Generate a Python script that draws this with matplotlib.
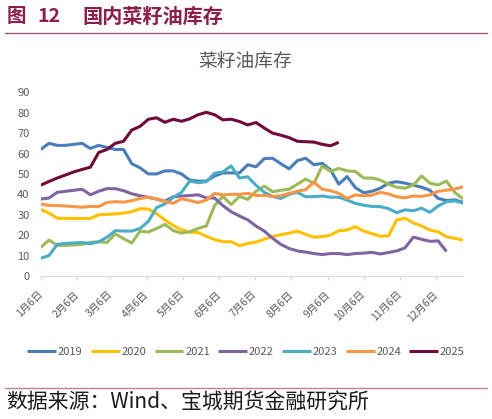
import matplotlib
matplotlib.use("Agg")
import matplotlib.pyplot as plt
from matplotlib.lines import Line2D
import numpy as np

plt.rcParams['font.family'] = ['Noto Sans CJK SC', 'DejaVu Sans']

# ---------------- data ----------------
tick_days = [0, 31, 59, 90, 120, 151, 181, 212, 243, 273, 304, 334]
tick_labels = ["1月6日", "2月6日", "3月6日", "4月6日", "5月6日", "6月6日",
               "7月6日", "8月6日", "9月6日", "10月6日", "11月6日", "12月6日"]
y_ticks = [0, 10, 20, 30, 40, 50, 60, 70, 80, 90]

s2019 = [62, 65, 64, 64, 64.5, 65, 62.5, 64, 63, 62, 62, 55, 53, 50, 50, 51.5,
         51.5, 50, 47, 46.5, 46.5, 49, 50.5, 50.5, 50.5, 54.5, 53.5, 57.5, 57.7,
         55, 52.5, 56.5, 57.7, 54.5, 55.2, 52, 45, 48.7, 43.3, 40.8, 41.5, 43,
         45.5, 46.2, 45.5, 44.5, 43.5, 42, 38, 37, 37.3, 36.1]
s2020 = [32.7, 30.8, 28.3, 28.2, 28.2, 28.2, 28.2, 30, 30.2, 30.4, 30.8, 31.5,
         33, 32.8, 30.5, 27.5, 24.8, 22.6, 21.5, 21.3, 19.5, 17.8, 16.8, 16.8,
         14.8, 16, 16.6, 18, 19.4, 20.2, 21, 22, 20.4, 19, 19.3, 20, 22.2, 22.5,
         24.2, 22, 20.8, 19.5, 19.7, 27.5, 28.3, 26, 24.5, 22.5, 21.7, 19.2,
         18.5, 17.6]
s2021 = [14, 17.6, 15, 15, 15.2, 15.5, 16.5, 16.8, 16.4, 20.6, 18.3, 16.2, 22,
         21.5, 23.3, 25.3, 22.3, 21, 21.7, 23.3, 24.5, 34.5, 39, 35, 39, 37.5,
         41.5, 44, 41.3, 42, 42.5, 45, 47.5, 45.4, 53.9, 51.2, 52.7, 51.5, 51.2,
         48, 48, 47, 45, 43.5, 43, 44.5, 49, 45.5, 44.6, 46.5, 41, 37.8]
s2022 = [37.7, 38.2, 41, 41.5, 42, 42.5, 39.8, 41.5, 42.8, 42.8, 41.8, 40.3,
         39.3, 38.5, 37.7, 36.6, 38.8, 39.2, 39.4, 39.8, 38.3, 38.2, 34.5, 31.5,
         29.4, 27.5, 24.5, 22, 18.5, 15.5, 13.5, 12.3, 11.7, 11, 10.5, 11, 11,
         10.5, 11, 11.2, 11.6, 10.8, 11.5, 12.3, 13.8, 19, 18, 17, 17.2, 12]
s2023 = [8.7, 10, 15.5, 16, 16.2, 16.4, 15.8, 16.7, 19, 22.2, 22, 22, 23.3,
         26.8, 33.5, 35.3, 38.5, 41, 46.5, 45.7, 46.2, 50.3, 51, 53.9, 48, 48.6,
         44.5, 41, 39, 38, 40, 41, 38.8, 38.9, 39.2, 38.6, 38.6, 37.2, 35.6,
         34.7, 34.1, 34, 33, 31, 32.4, 32, 33.2, 31.2, 34.3, 36.4, 36.8, 35.7]
s2024 = [35.3, 34.6, 34.5, 34.3, 34, 33.7, 34.1, 34, 36, 36.4, 36.2, 36.9, 38,
         38.6, 37.8, 36.5, 35.6, 37.8, 37, 36, 37.2, 40.5, 39.7, 40, 40, 40.5,
         39.5, 39.5, 39, 39.3, 40.5, 41.5, 42.3, 46, 42.5, 41.8, 40.5, 38, 39.7,
         39.3, 39.6, 41, 40.2, 38.8, 38.3, 39.2, 39, 39.8, 41.5, 42, 42.6, 43.7]
s2025 = [44.5, 46.3, 48, 49.5, 51, 52.2, 53.3, 60.5, 62, 65, 66, 71.5, 73.3,
         76.8, 77.5, 75.3, 76.8, 75.8, 77, 79, 80.2, 79, 76.5, 76.8, 75.7, 74,
         75.2, 72.5, 70, 69, 67.8, 66, 65.8, 65.6, 64.5, 63.8, 65.5]

series_names = ["2019", "2020", "2021", "2022", "2023", "2024", "2025"]
series_values = [s2019, s2020, s2021, s2022, s2023, s2024, s2025]
colors = ["#4A7EBB", "#FFC000", "#9BBB59", "#8064A2", "#4BACC6", "#F79646", "#6E0B3A"]

# ---------------- figure ----------------
W, H = 492, 419
fig = plt.figure(figsize=(W / 100, H / 100), dpi=100)
fig.patch.set_facecolor("white")

def fx(px):
    return px / W

def fy(py):
    return 1 - py / H

maroon = "#8B1E4B"
fig.text(fx(7), fy(16.5), "图", fontsize=14, fontweight="bold", color=maroon,
         ha="left", va="center")
fig.text(fx(37), fy(16.5), "12", fontsize=14, fontweight="bold", color=maroon,
         ha="left", va="center")
fig.text(fx(82), fy(16.5), "国内菜籽油库存", fontsize=14.5, fontweight="bold",
         color=maroon, ha="left", va="center")
fig.add_artist(Line2D([fx(5), fx(487)], [fy(33.3), fy(33.3)], color="#A0587A",
                      linewidth=1.0, transform=fig.transFigure))

fig.text(fx(245), fy(61), "菜籽油库存", fontsize=13.5, color="#595959",
         ha="center", va="center")

left, right, top, bottom = 40.7, 463, 92.3, 276
ax = fig.add_axes([fx(left), fy(bottom), (right - left) / W, (bottom - top) / H])

for name, vals, c in zip(series_names, series_values, colors):
    x = 7 * np.arange(len(vals))
    ax.plot(x, vals, color=c, linewidth=2.2, label=name,
            solid_joinstyle="round", solid_capstyle="butt")

ax.set_xlim(0, 357)
ax.set_ylim(0, 90)
ax.set_yticks(y_ticks)
ax.set_xticks(tick_days)
ax.set_xticklabels(tick_labels)
for s in ["top", "right", "left"]:
    ax.spines[s].set_visible(False)
ax.spines["bottom"].set_color("#D9D9D9")
ax.spines["bottom"].set_linewidth(0.8)
ax.tick_params(axis="y", length=0, pad=8, labelsize=8, labelcolor="#595959")
ax.tick_params(axis="x", direction="out", length=3, width=0.8, color="#D9D9D9",
               pad=9, labelsize=7.5, labelcolor="#595959")
plt.setp(ax.get_xticklabels(), rotation=45, ha="right", va="center",
         rotation_mode="anchor")

handles, labels = ax.get_legend_handles_labels()
leg = fig.legend(handles, labels, loc="center", bbox_to_anchor=(fx(246), fy(351.5)),
                 ncol=7, frameon=False, fontsize=8, handlelength=2.6,
                 handletextpad=0.15, columnspacing=0.75, borderpad=0)
for t in leg.get_texts():
    t.set_color("#595959")

fig.add_artist(Line2D([fx(5), fx(487)], [fy(387.7), fy(387.7)], color="#B8849E",
                      linewidth=1.0, transform=fig.transFigure))
fig.text(fx(6), fy(403), "数据来源：Wind、宝城期货金融研究所", fontsize=15,
         color="#1A1A1A", ha="left", va="center")

fig.savefig("out.png", dpi=100, facecolor="white")
